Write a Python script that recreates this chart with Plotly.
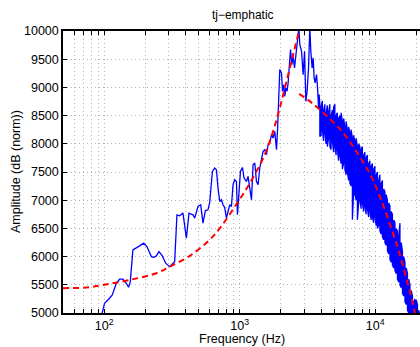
import plotly.graph_objects as go
import math

# ---- data ----
# lower / mid part of the spectrum (Hz, amplitude)
spec_freq = [90, 96.6, 100.5, 109.4, 114.6, 122.7, 129.8, 137.2, 145.4, 151.2, 155.7, 162.7, 172.4,
             182.4, 195.2, 206.5, 222.6, 231.4, 242.3, 253.3, 268.4, 283.9, 303.9, 330.8, 344.0,
             360.2, 381.0, 403.7, 422.0, 451.6, 465.0, 491.7, 514.9, 535.5, 557.8, 583.0, 600.1,
             628.3, 653.4, 672.6, 691.2, 711.5, 732.3, 752.6, 774.6, 797.4, 819.4, 843.5, 868.3,
             892.3, 918.4, 945.4, 961.6, 983.1, 1012, 1047, 1076, 1121, 1152, 1186, 1221, 1254,
             1291, 1329, 1366, 1405, 1447, 1487, 1530, 1575, 1619, 1666, 1715, 1762, 1814, 1867,
             1899, 1942, 1975, 2033, 2068, 2114, 2150, 2188, 2236, 2275, 2314, 2370, 2423, 2477,
             2536, 2593, 2651, 2729, 2776, 2858, 2937, 3008, 3075, 3142, 3218, 3290, 3347, 3421,
             3480, 3540, 3601, 3688, 3751, 3816, 3855]
spec_amp = [4700, 5000, 5172, 5261, 5320, 5527, 5599, 5599, 5527, 5456, 5556, 6119, 6149,
            6190, 6238, 6178, 6000, 5989, 6012, 6089, 6012, 5883, 5822, 5911, 6741,
            6723, 6771, 6327, 6771, 6741, 6682, 6888, 6918, 6593, 6817, 6829, 6959,
            7510, 7570, 7540, 7215, 6977, 7007, 6918, 6870, 6682, 6800, 6918, 6888,
            7274, 7362, 7332, 6741, 7066, 7510, 7581, 7393, 7332, 7421, 7215, 7007, 7629,
            7659, 7332, 7274, 7570, 7748, 7865, 7895, 7806, 7984, 8014, 8162, 8103, 8220, 7895,
            8220, 8694, 9316, 9257, 8931, 9050, 8842, 8991, 8931, 9080, 9286, 9671, 9405, 9553,
            9346, 9583, 9701, 10050, 9760, 9641, 9227, 9641, 8753, 8931, 9346, 10050, 9641, 9346,
            9524, 9169, 9080, 9227, 8991, 8636, 8872]

# dense high-frequency band: per frequency bin, upper and lower excursion
band_freq = [3900, 3984, 4070, 4157, 4246, 4338, 4431, 4526, 4624, 4723, 4825, 4929, 5034, 5143,
             5253, 5366, 5482, 5599, 5720, 5843, 5968, 6097, 6228, 6362, 6499, 6638, 6781, 6927,
             7076, 7228, 7383, 7542, 7704, 7870, 8039, 8212, 8388, 8569, 8753, 8941, 9134, 9330,
             9531, 9736, 9945, 10159, 10377, 10600, 10828, 11061, 11299, 11542, 11790, 12044,
             12303, 12567, 12838, 13114, 13396, 13684, 13978, 14279, 14586, 14899, 15220, 15547,
             15881, 16223, 16572, 16928, 17292, 17664, 18044, 18432, 18828, 19233, 19647, 20069,
             20501, 20942, 21392]
band_hi = [8700, 8650, 8760, 8600, 8700, 8550, 8680, 8560, 8700, 8500, 8600, 8650, 8700, 8500,
           8550, 8450, 8500, 8550, 8400, 8450, 8300, 8400, 8250, 8300, 8200, 8250, 8100, 8150,
           8050, 8100, 7950, 8000, 7950, 7900, 7950, 7800, 7850, 7750, 7800, 7650, 7700, 7600,
           7650, 7550, 7600, 7450, 7500, 7350, 7450, 7300, 7350, 7200, 7150, 7100,
           7000, 6950, 6900, 6800, 6750, 6650, 6600, 6500, 6450, 6350, 6593, 6250,
           6100, 6000, 5900, 5800, 5700, 5600, 5500, 5400, 5300, 5200, 5250, 5231,
           5150, 5050, 4950]
band_lo = [8131, 8150, 8250, 8050, 8192, 8000, 7950, 8100, 7950, 7900, 8050, 7850, 7950, 7800,
           7900, 7700, 7800, 7650, 7550, 7650, 7550, 7450, 7500, 7350, 7300, 7250, 6652, 7150,
           7100, 7000, 6652, 6950, 7000, 6850, 6950, 6800, 6900, 6750, 6850, 6700, 6800, 6650,
           6700, 6600, 6700, 6550, 6500, 6550, 6450, 6400, 6350, 6300, 6250, 6200,
           6100, 6050, 5950, 5900, 5850, 5800, 5750, 5700, 5600, 5550, 5500, 5450,
           5350, 5300, 5200, 5150, 5050, 5000, 4950, 4900, 4850, 4800, 4750, 4700,
           4650, 4600, 4550]

fit_rise_freq = [49.6, 77.8, 97.6, 153.8, 242.3, 303.9, 427.1, 600.1, 732.3, 945.4, 1186, 1530,
                 1762, 1975, 2214, 2477, 2744]
fit_rise_amp = [5440, 5456, 5497, 5586, 5705, 5822, 6012, 6300, 6540, 6930, 7300, 7806,
                8220, 8636, 9108, 9583, 10000]
fit_fall_freq = [2744, 3388, 4624, 5645, 6694, 8155, 9406, 10832, 12477, 14394, 16103, 18052,
                 19655, 21392]
fit_fall_amp = [8884, 8730, 8440, 8230, 7990, 7670, 7410, 7060, 6660, 6220, 5820, 5380,
                4990, 4600]

title_text = "tj\u2212emphatic"
x_label = "Frequency (Hz)"
y_label = "Amplitude (dB (norm))"
y_ticks = [5000, 5500, 6000, 6500, 7000, 7500, 8000, 8500, 9000, 9500, 10000]
x_major = [100, 1000, 10000]
x_major_text = ["10<sup>2</sup>", "10<sup>3</sup>", "10<sup>4</sup>"]

# ---- build traces ----
FONT = "Liberation Sans, Arial, Helvetica, sans-serif"

line_x = list(spec_freq)
line_y = list(spec_amp)
for i, f in enumerate(band_freq):
    pair = (band_hi[i], band_lo[i]) if i % 2 == 0 else (band_lo[i], band_hi[i])
    line_x += [f, f]
    line_y += list(pair)

x_ticks = []
x_text = []
for dec in [10, 100, 1000, 10000]:
    for m in range(1, 10):
        v = dec * m
        if 49 <= v <= 21400:
            x_ticks.append(v)
            x_text.append(x_major_text[x_major.index(v)] if v in x_major else "")

fig = go.Figure()
fig.add_trace(go.Scatter(x=line_x, y=line_y, mode="lines",
                         line=dict(color="#0000ff", width=1.3), showlegend=False))
fig.add_trace(go.Scatter(x=fit_rise_freq, y=fit_rise_amp, mode="lines",
                         line=dict(color="#ff0000", width=2, dash="6px,4px", shape="spline"),
                         showlegend=False))
fig.add_trace(go.Scatter(x=fit_fall_freq, y=fit_fall_amp, mode="lines",
                         line=dict(color="#ff0000", width=2, dash="6px,4px", shape="spline"),
                         showlegend=False))

GRID = "#b4b4b4"
fig.update_layout(
    width=420, height=347,
    margin=dict(l=63, r=0, t=31, b=34),
    paper_bgcolor="white", plot_bgcolor="white",
    font=dict(family=FONT, size=12, color="black"),
    title=dict(text=title_text, x=0.578, xanchor="center", y=1 - 15 / 347, yanchor="middle",
               xref="container", yref="container", font=dict(size=12, color="black")),
    xaxis=dict(type="log", range=[math.log10(49.6), math.log10(21398)],
               tickvals=x_ticks, ticktext=x_text, ticks="inside", ticklen=4,
               tickcolor="black", showline=True, linecolor="black", linewidth=1.5,
               mirror="allticks", showgrid=True, gridcolor=GRID, griddash="1px,3px",
               gridwidth=1, zeroline=False, automargin=False,
               tickfont=dict(size=12.5)),
    yaxis=dict(range=[5000, 10000], tickvals=y_ticks, ticktext=[str(v) for v in y_ticks],
               ticks="inside", ticklen=4,
               tickcolor="black", showline=True, linecolor="black", linewidth=1.5,
               mirror=False, showgrid=True, gridcolor=GRID, griddash="1px,3px",
               gridwidth=1, zeroline=False, automargin=False,
               tickfont=dict(size=12.5)),
    annotations=[
        dict(text=x_label, xref="paper", yref="paper", x=(242 - 63) / 357,
             y=(313 - 339) / 282, xanchor="center", yanchor="middle", showarrow=False,
             font=dict(size=12.5)),
        dict(text=y_label, xref="paper", yref="paper", x=(16 - 63) / 357,
             y=0.5, xanchor="center", yanchor="middle", textangle=-90, showarrow=False,
             font=dict(size=12.5)),
    ],
)

fig.write_html("out.html", config={"displayModeBar": False},
               post_script="document.body.style.margin='0';document.body.style.overflow='hidden';")
